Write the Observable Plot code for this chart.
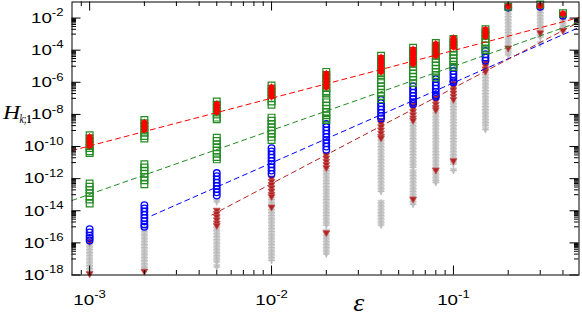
<!DOCTYPE html>
<html><head><meta charset="utf-8">
<script src="https://cdn.jsdelivr.net/npm/d3@7"></script>
<script src="https://cdn.jsdelivr.net/npm/@observablehq/plot@0.6"></script>
<style>html,body{margin:0;padding:0;background:#fff} svg{display:block}</style>
</head><body><div id="chart"></div>
<script>
// epsilon columns
const eps = [0.001, 0.002, 0.005, 0.01, 0.02, 0.04, 0.06, 0.08, 0.1, 0.15, 0.2, 0.3, 0.4];

// log10(H) values per column
const redLogH = [
  [-9.4,-9.55,-9.7,-9.85,-9.95],
  [-8.5,-8.65,-8.8,-8.95],
  [-7.35,-7.5,-7.65,-7.85],
  [-6.3,-6.45,-6.6,-6.75,-6.9],
  [-5.45,-5.6,-5.75,-5.9,-6.05,-6.2,-6.3],
  [-4.45,-4.6,-4.75,-4.9,-5.05,-5.2,-5.35],
  [-3.95,-4.1,-4.25,-4.4,-4.55,-4.7,-4.85],
  [-3.6,-3.75,-3.9,-4.05,-4.2,-4.35],
  [-3.25,-3.4,-3.55,-3.7,-3.8],
  [-2.7,-2.85,-3.0,-3.15],
  [-1.25],
  [-1.22],
  [-1.72]
];
const greenLogH = [
  [-9.3,-9.5,-9.7,-9.9,-10.1,-10.3,-10.4,-12.3,-12.5,-12.7,-12.9,-13.1,-13.3,-13.55],
  [-8.35,-8.55,-8.75,-8.95,-9.15,-9.35,-9.5,-11.1,-11.3,-11.5,-11.7,-11.9,-12.1,-12.35],
  [-7.2,-7.4,-7.6,-7.8,-8.0,-8.2,-8.3,-9.45,-9.65,-9.85,-10.05,-10.25,-10.45,-10.65,-10.8],
  [-6.2,-6.4,-6.6,-6.8,-7.0,-7.2,-7.4,-8.2,-8.4,-8.6,-8.8,-9.0,-9.2,-9.4,-9.6],
  [-5.35,-5.55,-5.75,-5.95,-6.15,-6.35,-6.55,-6.7,-7.05,-7.25,-7.45,-7.65,-7.85,-8.05,-8.25,-8.35],
  [-4.35,-4.55,-4.75,-4.95,-5.15,-5.35,-5.55,-5.85,-6.05,-6.25,-6.45,-6.65,-6.85,-7.05],
  [-3.85,-4.05,-4.25,-4.45,-4.65,-4.85,-5.05,-5.25,-5.45,-5.65,-5.85,-6.05],
  [-3.55,-3.75,-3.95,-4.15,-4.35,-4.55,-4.75,-4.95,-5.15,-5.35,-5.55,-5.7],
  [-3.3,-3.5,-3.7,-3.9,-4.1,-4.3,-4.5,-4.7,-4.9,-5.05],
  [-2.7,-2.9,-3.1,-3.3,-3.5,-3.7,-3.9,-4.0],
  [-1.3],
  [-1.15],
  [-1.7]
];
const blueLogH = [
  [-15.15,-15.35,-15.55,-15.7,-15.85],
  [-13.65,-13.85,-14.05,-14.25,-14.45,-14.65,-14.85,-15.0],
  [-11.65,-11.85,-12.05,-12.25,-12.45,-12.65,-12.85,-13.05],
  [-10.1,-10.3,-10.5,-10.7,-10.9,-11.1,-11.3,-11.5,-11.7],
  [-8.6,-8.8,-9.0,-9.2,-9.4,-9.6,-9.8,-10.0,-10.2],
  [-7.1,-7.3,-7.5,-7.7,-7.9,-8.1,-8.25],
  [-6.25,-6.45,-6.65,-6.85,-7.05,-7.25,-7.35],
  [-5.8,-6.0,-6.2,-6.4,-6.6,-6.8,-6.9],
  [-5.1,-5.3,-5.5,-5.7,-5.9,-6.0],
  [-4.05,-4.25,-4.45,-4.65],
  [-1.35],
  [-1.3],
  [-1.85]
];
const brownLogH = [
  [-15.95,-17.95],
  [-17.8],
  [-14.0,-14.2,-14.4,-14.6,-14.8,-14.95],
  [-12.0,-12.2,-12.4,-12.6,-12.8,-13.0,-13.15,-13.8],
  [-10.55,-10.75,-10.95,-11.15,-11.35,-15.4],
  [-8.4,-8.6,-8.8,-9.0,-9.2,-9.4,-9.5],
  [-7.45,-7.65,-7.85,-8.05,-8.25,-8.4,-13.3],
  [-7.0,-7.2,-7.4,-7.6,-7.75,-11.5],
  [-6.1,-6.3,-6.5,-6.7,-6.9,-7.1,-10.92],
  [-4.8,-5.0,-5.2,-5.35],
  [-1.4,-3.9],
  [-1.35,-2.95],
  [-1.95,-2.8]
];
const greyLogH = [
  [-16.0,-16.2,-16.4,-16.6,-16.8,-17.0,-17.2,-17.4,-17.6,-17.8],
  [-15.1,-15.3,-15.5,-15.7,-15.9,-16.1,-16.3,-16.5,-16.7,-16.9,-17.1,-17.3,-17.5,-17.65],
  [-13.45,-15.0,-15.2,-15.4,-15.6,-15.8,-16.0,-16.2,-16.4,-16.6,-16.8,-17.0,-17.2,-17.5],
  [-13.3,-13.5,-13.7,-13.9,-14.1,-14.3,-14.5,-14.7,-14.9,-15.1,-15.3,-15.5,-15.7,-15.9,-16.1,-16.3,-16.5,-16.7,-16.9,-17.1],
  [-11.5,-11.7,-11.9,-12.1,-12.3,-12.5,-12.7,-12.9,-13.1,-13.3,-13.5,-13.7,-13.9,-14.1,-14.3,-14.5,-14.7,-14.9,-15.3,-15.5,-15.7,-15.9,-16.1,-16.3,-16.5,-16.7],
  [-9.6,-9.8,-10.0,-10.2,-10.4,-10.6,-10.8,-11.0,-11.2,-11.4,-11.6,-11.8,-12.0,-12.2,-12.4,-12.6,-12.8,-13.5,-13.7,-13.9,-14.1,-14.3,-14.5,-14.7,-14.9],
  [-8.5,-8.7,-8.9,-9.1,-9.3,-9.5,-9.7,-9.9,-10.1,-10.3,-10.5,-10.7,-10.9,-11.1,-11.3,-11.6,-11.8,-12.0,-12.2,-12.4,-12.6,-12.8,-13.0,-13.2,-13.4,-13.6],
  [-7.9,-8.1,-8.3,-8.5,-8.7,-8.9,-9.1,-9.3,-9.5,-9.7,-9.9,-10.1,-10.3,-10.5,-10.7,-10.9,-11.1,-11.3,-11.5,-11.7,-11.9,-12.1,-12.25],
  [-7.3,-7.5,-7.7,-7.9,-8.1,-8.3,-8.5,-8.7,-8.9,-9.1,-9.3,-9.5,-9.7,-9.9,-10.1,-10.3,-10.5,-10.7,-10.9,-11.1,-11.5],
  [-5.5,-5.7,-5.9,-6.1,-6.3,-6.5,-6.7,-6.9,-7.1,-7.3,-7.5,-7.7,-7.9,-8.1,-8.3,-8.5,-8.7,-8.95],
  [-1.5,-1.7,-1.9,-2.1,-2.3,-2.5,-2.7,-2.9,-3.1,-3.3,-3.5,-3.7,-3.9,-4.1,-4.3],
  [-1.45,-1.65,-1.85,-2.05,-2.25,-2.45,-2.65,-2.85,-3.05,-3.2,-3.6],
  [-1.9,-2.1,-2.3,-2.5,-2.7,-2.85]
];

// dashed fit lines: [eps, log10 H] end points
const fitRed   = [[8e-4, -10.25], [0.49, -1.97]];
const fitGreen = [[8e-4, -13.36], [0.49, -2.26]];
const fitBlue  = [[0.0022, -14.30], [0.49, -2.59]];
const fitBrown = [[0.0047, -14.26], [0.49, -2.25]];

// ticks
const xMajor = [1e-3, 1e-2, 1e-1];
const xMinor = [9e-4, 2e-3,3e-3,4e-3,5e-3,6e-3,7e-3,8e-3,9e-3, 2e-2,3e-2,4e-2,5e-2,6e-2,7e-2,8e-2,9e-2, 2e-1,3e-1,4e-1];
const yMajorExp = [-18,-16,-14,-12,-10,-8,-6,-4,-2];
const yMinorExp = [-17,-15,-13,-11,-9,-7,-5,-3];
const yMinorMult = [1,2,3,4,5,6,7,8,9];

const yMajor = yMajorExp.map(e => Math.pow(10, e));
const yMinor = yMinorExp.flatMap(e => yMinorMult.map(k => k * Math.pow(10, e)));

const toPts = arr => arr.flatMap((col, i) => col.map(v => ({eps: eps[i], H: Math.pow(10, v)})));
const toLine = arr => arr.map(([e, v]) => ({eps: e, H: Math.pow(10, v)}));

const W = 582, Hh = 316;
const mL = 71.5, mR = 3.5, mT = 1.5, mB = 41.5;
const fW = W - mL - mR, fH = Hh - mT - mB;
const tMaj = 9, tMin = 4.5;

const triDown = {
  draw(ctx, size) {
    const r = Math.sqrt(size / Math.PI);
    ctx.moveTo(0, r);
    ctx.lineTo(r, -0.75 * r);
    ctx.lineTo(-r, -0.75 * r);
    ctx.closePath();
  }
};

const RED = "#ff0000", GREEN = "#228b22", BLUE = "#0000ff", BROWN = "#b22222", GREY = "#c6c6c6";

const plot = Plot.plot({
  width: W, height: Hh,
  marginLeft: mL, marginRight: mR, marginTop: mT, marginBottom: mB,
  style: {fontFamily: "'Liberation Sans', Arial, sans-serif", background: "#fff"},
  x: {type: "log", domain: [8e-4, 0.49]},
  y: {type: "log", domain: [1e-18, 1e-1]},
  marks: [
    // grey
    Plot.dot(toPts(greyLogH), {x: "eps", y: "H", symbol: triDown, r: 3.3, fill: GREY, stroke: "#cfcfcf", strokeWidth: 0.8}),
    Plot.dot(toPts(greyLogH), {x: "eps", y: "H", symbol: "plus", r: 2.4, stroke: "#bababa", strokeWidth: 1}),
    // brown
    Plot.dot(toPts(brownLogH), {x: "eps", y: "H", symbol: triDown, r: 3.4, fill: BROWN, stroke: "#c45050", strokeWidth: 0.8}),
    // blue
    Plot.dot(toPts(blueLogH), {x: "eps", y: "H", symbol: "circle", r: 3.3, fill: "none", stroke: BLUE, strokeWidth: 1.3}),
    // green
    Plot.dot(toPts(greenLogH), {x: "eps", y: "H", symbol: "square", r: 3.8, fill: "none", stroke: GREEN, strokeWidth: 1.2}),
    // red
    Plot.dot(toPts(redLogH), {x: "eps", y: "H", symbol: "circle", r: 2.8, fill: RED, stroke: "none"}),
    Plot.dot(toPts(redLogH), {x: "eps", y: "H", symbol: "asterisk", r: 3.4, stroke: RED, strokeWidth: 1}),
    // fit lines
    Plot.line(toLine(fitRed),   {x: "eps", y: "H", stroke: RED,   strokeWidth: 1, strokeDasharray: "5,4"}),
    Plot.line(toLine(fitGreen), {x: "eps", y: "H", stroke: GREEN, strokeWidth: 1, strokeDasharray: "5,4"}),
    Plot.line(toLine(fitBlue),  {x: "eps", y: "H", stroke: BLUE,  strokeWidth: 1, strokeDasharray: "5,4"}),
    Plot.line(toLine(fitBrown), {x: "eps", y: "H", stroke: BROWN, strokeWidth: 1, strokeDasharray: "5,4"}),
    // inward ticks, all four sides
    Plot.tickX(xMajor, {x: d => d, insetTop: fH - tMaj, stroke: "#000"}),
    Plot.tickX(xMinor, {x: d => d, insetTop: fH - tMin, stroke: "#000"}),
    Plot.tickX(xMajor, {x: d => d, insetBottom: fH - tMaj, stroke: "#000"}),
    Plot.tickX(xMinor, {x: d => d, insetBottom: fH - tMin, stroke: "#000"}),
    Plot.tickY(yMajor, {y: d => d, insetRight: fW - tMaj, stroke: "#000"}),
    Plot.tickY(yMinor, {y: d => d, insetRight: fW - tMin, stroke: "#000"}),
    Plot.tickY(yMajor, {y: d => d, insetLeft: fW - tMaj, stroke: "#000"}),
    Plot.tickY(yMinor, {y: d => d, insetLeft: fW - tMin, stroke: "#000"}),
    // tick labels
    Plot.axisX({ticks: xMajor, tickSize: 0, tickPadding: 19, fontSize: 15, label: null,
      tickFormat: d => "10^" + Math.round(Math.log10(d))}),
    Plot.axisY({ticks: yMajor, tickSize: 0, tickPadding: 8.5, fontSize: 15, label: null,
      tickFormat: d => "10^" + Math.round(Math.log10(d))}),
    Plot.frame({stroke: "#000", strokeWidth: 1})
  ]
});

const svg = d3.select(plot);
svg.selectAll('g[aria-label="x-axis tick label"] text, g[aria-label="y-axis tick label"] text').each(function () {
  const s = this.textContent;
  const exp = s.split("^")[1];
  const el = d3.select(this);
  el.text(null);
  el.append("tspan").text("10");
  el.append("tspan").attr("dy", "-6.5").attr("font-size", "10.5px").text(exp);
  const tr = el.attr("transform") || "";
  el.attr("transform", tr + " scale(1.25,1)");
});

// y-axis title H_{k;1}
const serif = "'Liberation Serif', 'Times New Roman', serif";
svg.append("text").attr("text-anchor", "start")
  .attr("transform", "translate(3,118.7) scale(1.25,1)")
  .attr("font-family", serif).attr("font-style", "italic").attr("font-size", 19)
  .attr("fill", "#000").text("H");
const sub = svg.append("text").attr("text-anchor", "start")
  .attr("transform", "translate(19.5,123.2) scale(0.85,1)")
  .attr("font-family", serif).attr("font-size", 11.5).attr("fill", "#000");
sub.append("tspan").attr("font-style", "italic").text("k");
sub.append("tspan").text(";");
sub.append("tspan").attr("font-weight", "bold").text("1");

// x-axis title epsilon
svg.append("text").attr("text-anchor", "middle")
  .attr("transform", "translate(358.7,310.5) scale(1.12,1)")
  .attr("font-family", serif).attr("font-style", "italic").attr("font-size", 25).attr("fill", "#000").text("ε");

document.getElementById("chart").appendChild(plot);
</script>
</body></html>
